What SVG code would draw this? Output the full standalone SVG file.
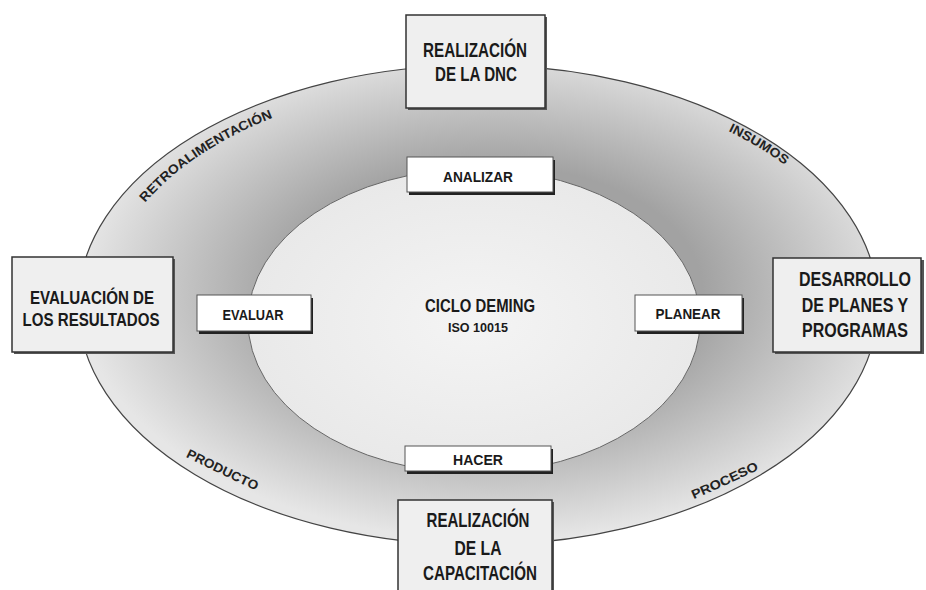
<svg xmlns="http://www.w3.org/2000/svg" width="926" height="590" viewBox="0 0 926 590">
<defs>
<radialGradient id="ring" cx="0.52" cy="0.47" r="0.52">
<stop offset="0.5" stop-color="#a2a2a2"/>
<stop offset="0.75" stop-color="#c4c4c4"/>
<stop offset="1" stop-color="#e6e6e6"/>
</radialGradient>
<radialGradient id="core" cx="0.5" cy="0.5" r="0.5">
<stop offset="0" stop-color="#f4f4f4"/>
<stop offset="1" stop-color="#e9e9e9"/>
</radialGradient>
<path id="pRetro" d="M112.2,258.4 A374 224 0 0 1 362.4,92"/>
<path id="pInsumos" d="M610,92 A383 224 0 0 1 860,262"/>
<path id="pProducto" d="M168,448 Q220,474 274,499"/>
<path id="pProceso" d="M656,515 Q726,487 796,451"/>
</defs>
<style>
text{font-family:"Liberation Sans",Arial,sans-serif;font-weight:bold;fill:#1a1a1a;text-anchor:middle}
.big{font-size:21px}
.mid{font-size:18px}
.sm{font-size:14px}
.arc{font-size:13px;fill:#222}
.bigbox{fill:#efefef;stroke:#333;stroke-width:1.5}
.bigsh{fill:#555}
.smbox{fill:#ffffff;stroke:#555;stroke-width:1}
.smsh{fill:#222}
</style>
<rect width="926" height="590" fill="#ffffff"/>
<g id="ring-ellipse">
<ellipse cx="478" cy="305" rx="400" ry="240" fill="url(#ring)" stroke="#444" stroke-width="1.2"/>
</g>
<g id="core-ellipse">
<ellipse cx="474" cy="321" rx="226" ry="152" fill="url(#core)" stroke="#666" stroke-width="1"/>
<text x="480" y="312" font-size="18" textLength="110" lengthAdjust="spacingAndGlyphs">CICLO DEMING</text>
<text x="478" y="332" font-size="13" textLength="60" lengthAdjust="spacingAndGlyphs">ISO 10015</text>
</g>
<g id="ring-labels">
<text class="arc" style="text-anchor:start"><textPath href="#pRetro" startOffset="65" textLength="155" lengthAdjust="spacingAndGlyphs">RETROALIMENTACIÓN</textPath></text>
<text class="arc"><textPath href="#pInsumos" startOffset="50%" textLength="66" lengthAdjust="spacingAndGlyphs">INSUMOS</textPath></text>
<text class="arc"><textPath href="#pProducto" startOffset="50%" textLength="78" lengthAdjust="spacingAndGlyphs">PRODUCTO</textPath></text>
<text class="arc"><textPath href="#pProceso" startOffset="50%" textLength="72" lengthAdjust="spacingAndGlyphs">PROCESO</textPath></text>
</g>
<g id="analizar">
<rect class="smsh" x="409" y="160" width="146" height="35"/>
<rect class="smbox" x="407" y="157" width="146" height="35"/>
<text class="sm" x="478" y="182" textLength="70" lengthAdjust="spacingAndGlyphs">ANALIZAR</text>
</g>
<g id="evaluar">
<rect class="smsh" x="199" y="298" width="114" height="36"/>
<rect class="smbox" x="197" y="295" width="114" height="36"/>
<text class="sm" x="253" y="320" textLength="61" lengthAdjust="spacingAndGlyphs">EVALUAR</text>
</g>
<g id="planear">
<rect class="smsh" x="637" y="298" width="107" height="36"/>
<rect class="smbox" x="635" y="295" width="107" height="36"/>
<text class="sm" x="688" y="319" textLength="65" lengthAdjust="spacingAndGlyphs">PLANEAR</text>
</g>
<g id="hacer">
<rect class="smsh" x="407" y="449" width="146" height="25"/>
<rect class="smbox" x="405" y="446" width="146" height="25"/>
<text class="sm" x="478" y="465" textLength="50" lengthAdjust="spacingAndGlyphs">HACER</text>
</g>
<g id="realizacion-dnc">
<rect class="bigsh" x="408" y="17" width="139" height="93"/>
<rect class="bigbox" x="406" y="15" width="139" height="93"/>
<text class="big" x="475" y="57" textLength="104" lengthAdjust="spacingAndGlyphs">REALIZACIÓN</text>
<text class="big" x="476" y="81" textLength="82" lengthAdjust="spacingAndGlyphs">DE LA DNC</text>
</g>
<g id="evaluacion-resultados">
<rect class="bigsh" x="14" y="259" width="161" height="95"/>
<rect class="bigbox" x="12" y="257" width="161" height="95"/>
<text class="mid" x="92" y="304" textLength="124" lengthAdjust="spacingAndGlyphs">EVALUACIÓN DE</text>
<text class="mid" x="91" y="326" textLength="137" lengthAdjust="spacingAndGlyphs">LOS RESULTADOS</text>
</g>
<g id="desarrollo-planes">
<rect class="bigsh" x="775" y="260" width="149" height="94"/>
<rect class="bigbox" x="773" y="258" width="148" height="94"/>
<g transform="translate(855,0) scale(0.8,1)">
<text x="0" y="286" font-size="20">DESARROLLO</text>
<text x="0" y="312" font-size="20">DE PLANES Y</text>
<text x="0" y="337" font-size="20">PROGRAMAS</text>
</g>
</g>
<g id="realizacion-capacitacion">
<rect class="bigsh" x="400" y="502" width="154" height="100"/>
<rect class="bigbox" x="398" y="500" width="154" height="100"/>
<text class="big" x="478" y="527" textLength="103" lengthAdjust="spacingAndGlyphs">REALIZACIÓN</text>
<text class="big" x="478" y="555" textLength="47" lengthAdjust="spacingAndGlyphs">DE LA</text>
<text class="big" x="480" y="580" textLength="114" lengthAdjust="spacingAndGlyphs">CAPACITACIÓN</text>
</g>
<g id="connectors"/>
</svg>
